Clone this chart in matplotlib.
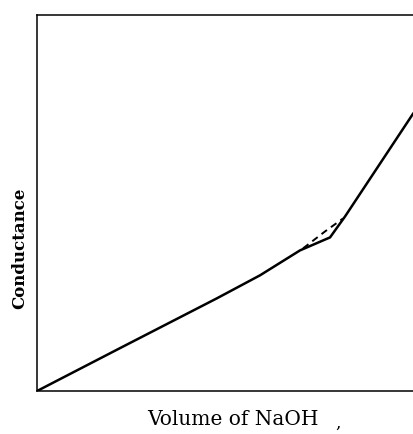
import matplotlib
matplotlib.use("Agg")
import matplotlib.pyplot as plt

# conductometric titration curve (arbitrary units)
volume = [0, 83, 180, 223, 263, 293, 308, 376]
conductance = [0, 43, 93, 116, 141, 154, 175, 278]

# smoothed course around the end point
volume_smooth = [266, 288, 306]
conductance_smooth = [143, 160, 173]

fig = plt.figure(figsize=(4.13, 4.35), dpi=100)
ax = fig.add_axes([0.09, 0.099, 0.91, 0.864])

ax.plot(volume, conductance, color="black", lw=1.8, solid_joinstyle="miter")
ax.plot(volume_smooth, conductance_smooth, color="black", lw=1.4, ls=(0, (3.5, 2.5)))

ax.set_xlim(0, 376)
ax.set_ylim(0, 377)
ax.set_xticks([])
ax.set_yticks([])
ax.spines["right"].set_visible(False)
for side in ("left", "top", "bottom"):
    ax.spines[side].set_linewidth(1.1)

fig.text(0.565, 0.022, "Volume of NaOH", ha="center", va="baseline",
         family="DejaVu Serif", fontsize=14.5)
fig.text(0.818, 0.016, ",", ha="center", va="baseline",
         family="DejaVu Serif", fontsize=12)
fig.text(0.048, 0.43, "Conductance", ha="center", va="center", rotation=90,
         family="DejaVu Serif", fontsize=12, fontweight="bold")

fig.savefig("out.png", dpi=100)
